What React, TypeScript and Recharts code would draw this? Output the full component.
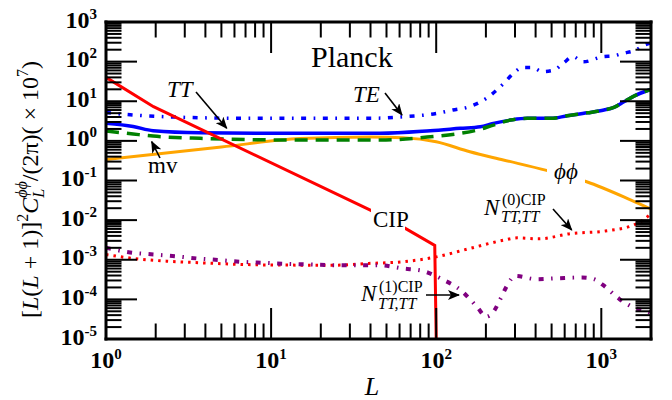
import React from 'react';
import { LineChart, Line, XAxis, YAxis } from 'recharts';

// ---------- data ----------
const TE_L = [1, 1.46, 2.33, 3.72, 7.5, 15, 45, 63, 100, 126, 159, 201, 256, 294, 332, 382, 439, 516, 588, 675, 778, 1023, 1192, 1355, 1614, 1822, 2000];
const TE_V = [5.2, 4.5, 4.06, 3.83, 3.7, 3.7, 3.75, 4.06, 4.9, 6.0, 7.3, 11.8, 28, 51, 71, 71, 56, 61, 91, 133, 99, 133, 140, 162, 196, 262, 295];

const TT_L = [1, 1.46, 1.93, 3.72, 15, 46, 92, 140, 185, 222, 282, 356, 493, 622, 823, 1038, 1192, 1371, 1577, 1944, 2000];
const TT_V = [2.77, 2.3, 1.8, 1.6, 1.55, 1.55, 1.8, 2.07, 2.27, 2.77, 3.35, 3.7, 3.7, 4.3, 5.1, 6.0, 7.0, 9.7, 13.5, 19.2, 20];

const MV_L = [1, 1.46, 1.93, 3.72, 15, 46, 92, 140, 177, 222, 282, 356, 493, 622, 823, 1038, 1192, 1371, 1577, 1944, 2000];
const MV_V = [1.77, 1.49, 1.32, 1.16, 1.05, 1.05, 1.27, 1.55, 1.87, 2.5, 3.35, 3.7, 3.7, 4.3, 5.1, 6.0, 7.0, 9.7, 13.5, 19.2, 20];

const PP_L = [1, 5, 15, 40, 63, 100, 160, 255, 466, 815, 1490, 2000];
const PP_V = [0.34, 0.7, 1.14, 1.25, 1.2, 0.95, 0.53, 0.33, 0.18, 0.093, 0.033, 0.019];

const CIP_L = [1, 1.94, 39.9, 65, 98, 100];
const CIP_V = [40, 7.3, 0.0179, 0.0062, 0.0023, 1e-5];

const N0_L = [1, 1.46, 2.33, 3.72, 5.87, 9.4, 18, 24.8, 39, 63, 100, 160, 255, 310, 417, 661, 1057, 1607, 1959, 2000];
const N0_V = [1.35e-3, 1.08e-3, 9.2e-4, 8.4e-4, 7.75e-4, 7.4e-4, 7.3e-4, 7.3e-4, 8.07e-4, 8.9e-4, 1.18e-3, 1.93e-3, 3.1e-3, 3.57e-3, 3.37e-3, 4.6e-3, 5.3e-3, 7.8e-3, 1.34e-2, 1.45e-2];

const N1_L = [1, 1.4, 1.94, 2.62, 3.55, 4.91, 6.65, 9.2, 12.5, 17.3, 24.8, 45, 63, 83, 109, 142, 177, 201, 218, 247, 268, 301, 406, 557, 763, 898, 1018, 1288, 1570, 1958, 2000];
const N1_V = [2.0e-3, 1.53e-3, 1.36e-3, 1.23e-3, 1.08e-3, 9.8e-4, 8.85e-4, 8.36e-4, 7.88e-4, 7.6e-4, 7.3e-4, 7.3e-4, 6.0e-4, 5.2e-4, 3.2e-4, 1.66e-4, 6.4e-5, 3.65e-5, 4.4e-5, 1.1e-4, 2.2e-4, 3.9e-4, 3.24e-4, 3.43e-4, 3.57e-4, 3.27e-4, 2.35e-4, 1.02e-4, 6.2e-5, 4.7e-5, 4.5e-5];

const X_MAJOR = [1, 10, 100, 1000];
const Y_MAJOR = [1e-5, 1e-4, 1e-3, 1e-2, 1e-1, 1, 10, 100, 1000];
const MINOR_MULT = [2, 3, 4, 5, 6, 7, 8, 9];

const X_TICKS: number[] = [];
X_MAJOR.forEach((m) => {
  X_TICKS.push(m);
  MINOR_MULT.forEach((k) => {
    if (m * k <= 2000) X_TICKS.push(m * k);
  });
});
const Y_TICKS: number[] = [];
Y_MAJOR.forEach((m) => {
  Y_TICKS.push(m);
  if (m < 1000) MINOR_MULT.forEach((k) => Y_TICKS.push(m * k));
});

const mk = (ls: number[], vs: number[]) => ls.map((L, i) => ({ L, v: vs[i] }));
const dTE = mk(TE_L, TE_V);
const dTT = mk(TT_L, TT_V);
const dMV = mk(MV_L, MV_V);
const dPP = mk(PP_L, PP_V);
const dCIP = mk(CIP_L, CIP_V);
const dN0 = mk(N0_L, N0_V);
const dN1 = mk(N1_L, N1_V);

// ---------- layout ----------
const W = 672;
const H = 400;
const MAJ = 31;
const MIN = 15.5;
const SERIF = '"Liberation Serif", "Times New Roman", serif';

const isMajor = (v: number, list: number[]) => list.some((m) => Math.abs(v / m - 1) < 1e-6);
const expOf = (v: number) => String(Math.round(Math.log10(v)));

const tickText = (x: number, y: number, v: number, anchor: 'middle' | 'end') => (
  <text x={x} y={y} textAnchor={anchor} fontFamily={SERIF} fontWeight="bold" fontSize={24} fill="#000">
    10
    <tspan dy={-9} fontSize={15}>{expOf(v)}</tspan>
  </text>
);

const XBottomTick = (p: any) => {
  const { x, y, payload } = p;
  const maj = isMajor(payload.value, X_MAJOR);
  return (
    <g>
      <line x1={x} x2={x} y1={y} y2={y - (maj ? MAJ : MIN)} stroke="#000" strokeWidth={2} />
      {maj ? tickText(x, y + 29, payload.value, 'middle') : null}
    </g>
  );
};
const XTopTick = (p: any) => {
  const { x, y, payload } = p;
  const maj = isMajor(payload.value, X_MAJOR);
  return <line x1={x} x2={x} y1={y} y2={y + (maj ? MAJ : MIN)} stroke="#000" strokeWidth={2} />;
};
const YLeftTick = (p: any) => {
  const { x, y, payload } = p;
  const maj = isMajor(payload.value, Y_MAJOR);
  return (
    <g>
      <line x1={x} x2={x + (maj ? MAJ : MIN)} y1={y} y2={y} stroke="#000" strokeWidth={2} />
      {maj ? tickText(x - 9, y + 5.5, payload.value, 'end') : null}
    </g>
  );
};
const YRightTick = (p: any) => {
  const { x, y, payload } = p;
  const maj = isMajor(payload.value, Y_MAJOR);
  return <line x1={x} x2={x - (maj ? MAJ : MIN)} y1={y} y2={y} stroke="#000" strokeWidth={2} />;
};

const axisLine = { stroke: '#000', strokeWidth: 3, strokeLinecap: 'square' as const };

const Overlay = () => {
  const t = { fontFamily: SERIF, fill: '#000' };
  const arrow = { stroke: '#000', strokeWidth: 1.6, markerEnd: 'url(#ah)' };
  return (
    <svg width={W} height={H} style={{ position: 'absolute', left: 0, top: 0, pointerEvents: 'none' }}>
      <defs>
        <marker id="ah" viewBox="0 0 12 10" refX="11" refY="5" markerWidth="12" markerHeight="10" markerUnits="userSpaceOnUse" orient="auto">
          <path d="M0,0 L12,5 L0,10 L3,5 z" fill="#000" />
        </marker>
      </defs>
      {/* gaps for inline labels */}
      <rect x={547} y={158} width={38} height={32} fill="#fff" />
      <rect x={371} y={203} width={34} height={31} fill="#fff" />

      <text x={311} y={67} fontSize={30} {...t}>Planck</text>

      <text x={167} y={97} fontSize={23} fontStyle="italic" {...t}>TT</text>
      <line x1={196} y1={92} x2={226.7} y2={128.3} {...arrow} />

      <text x={353} y={102} fontSize={23} fontStyle="italic" {...t}>TE</text>
      <line x1={385} y1={93} x2={402} y2={115} {...arrow} />

      <text x={148} y={173} fontSize={23} {...t}>mv</text>
      <line x1={160} y1={158} x2={151.7} y2={141.7} {...arrow} />

      <text x={554} y={179} fontSize={23} fontStyle="italic" {...t}>ϕϕ</text>

      <text x={373} y={227} fontSize={23} {...t}>CIP</text>

      <text x={484} y={215} fontSize={23} {...t}>
        <tspan fontStyle="italic">N</tspan>
        <tspan x={502} dy={-10} fontSize={16}>(0)CIP</tspan>
        <tspan x={501} dy={17} fontSize={16} fontStyle="italic">TT,TT</tspan>
      </text>
      <line x1={553} y1={209} x2={571.7} y2={230} {...arrow} />

      <text x={361} y={301} fontSize={23} {...t}>
        <tspan fontStyle="italic">N</tspan>
        <tspan x={379} dy={-9} fontSize={16}>(1)CIP</tspan>
        <tspan x={378} dy={17} fontSize={16} fontStyle="italic">TT,TT</tspan>
      </text>
      <line x1={426} y1={295} x2={459} y2={295} {...arrow} />

      <text x={372} y={395} fontSize={26} fontStyle="italic" textAnchor="middle" {...t}>L</text>

      <text transform="translate(38,318) rotate(-90)" textAnchor="start" fontSize={24} {...t}>
        [<tspan fontStyle="italic">L</tspan>(<tspan fontStyle="italic">L</tspan> + 1)]
        <tspan dy={-10} fontSize={16}>2</tspan>
        <tspan dy={10} fontStyle="italic">C</tspan>
        <tspan dy={6} fontSize={16} fontStyle="italic">L</tspan>
        <tspan dx={-9} dy={-17} fontSize={16} fontStyle="italic">ϕϕ</tspan>
        <tspan dy={11}>/(2π)( × 10</tspan>
        <tspan dy={-10} fontSize={16}>7</tspan>
        <tspan dy={10}>)</tspan>
      </text>
    </svg>
  );
};

export default function App() {
  return (
    <div style={{ position: 'fixed', left: 0, top: 0, width: W, height: H, overflow: 'hidden', background: '#fff' }}>
      <LineChart width={W} height={H} margin={{ top: 21, right: 20, bottom: 0, left: 0 }}>
        <XAxis xAxisId="b" dataKey="L" type="number" scale="log" domain={[1, 2000]} allowDataOverflow
          orientation="bottom" height={61} ticks={X_TICKS} interval={0} tickSize={0} tickMargin={0}
          tickLine={false} axisLine={axisLine} tick={XBottomTick} />
        <XAxis xAxisId="t" dataKey="L" type="number" scale="log" domain={[1, 2000]} allowDataOverflow
          orientation="top" height={1} ticks={X_TICKS} interval={0} tickSize={0} tickMargin={0}
          tickLine={false} axisLine={axisLine} tick={XTopTick} />
        <YAxis yAxisId="l" type="number" scale="log" domain={[1e-5, 1000]} allowDataOverflow
          orientation="left" width={106} ticks={Y_TICKS} interval={0} tickSize={0} tickMargin={0}
          tickLine={false} axisLine={axisLine} tick={YLeftTick} />
        <YAxis yAxisId="r" type="number" scale="log" domain={[1e-5, 1000]} allowDataOverflow
          orientation="right" width={1} ticks={Y_TICKS} interval={0} tickSize={0} tickMargin={0}
          tickLine={false} axisLine={axisLine} tick={YRightTick} />

        <Line xAxisId="b" yAxisId="l" data={dPP} dataKey="v" type="monotone" stroke="#ffa500" strokeWidth={3} dot={false} isAnimationActive={false} />
        <Line xAxisId="b" yAxisId="l" data={dTE} dataKey="v" type="monotone" stroke="#0000ff" strokeWidth={3.5} strokeDasharray="5 7.5 1.7 7.5" dot={false} isAnimationActive={false} />
        <Line xAxisId="b" yAxisId="l" data={dTT} dataKey="v" type="monotone" stroke="#0000ff" strokeWidth={3.5} dot={false} isAnimationActive={false} />
        <Line xAxisId="b" yAxisId="l" data={dMV} dataKey="v" type="monotone" stroke="#008000" strokeWidth={3.5} strokeDasharray="13 8" dot={false} isAnimationActive={false} />
        <Line xAxisId="b" yAxisId="l" data={dCIP} dataKey="v" type="linear" stroke="#ff0000" strokeWidth={3} dot={false} isAnimationActive={false} />
        <Line xAxisId="b" yAxisId="l" data={dN0} dataKey="v" type="monotone" stroke="#ff0000" strokeWidth={3} strokeDasharray="2.5 5" dot={false} isAnimationActive={false} />
        <Line xAxisId="b" yAxisId="l" data={dN1} dataKey="v" type="monotone" stroke="#800080" strokeWidth={4} strokeDasharray="5 7.5 1.5 7.5" dot={false} isAnimationActive={false} />
      </LineChart>
      <Overlay />
    </div>
  );
}
